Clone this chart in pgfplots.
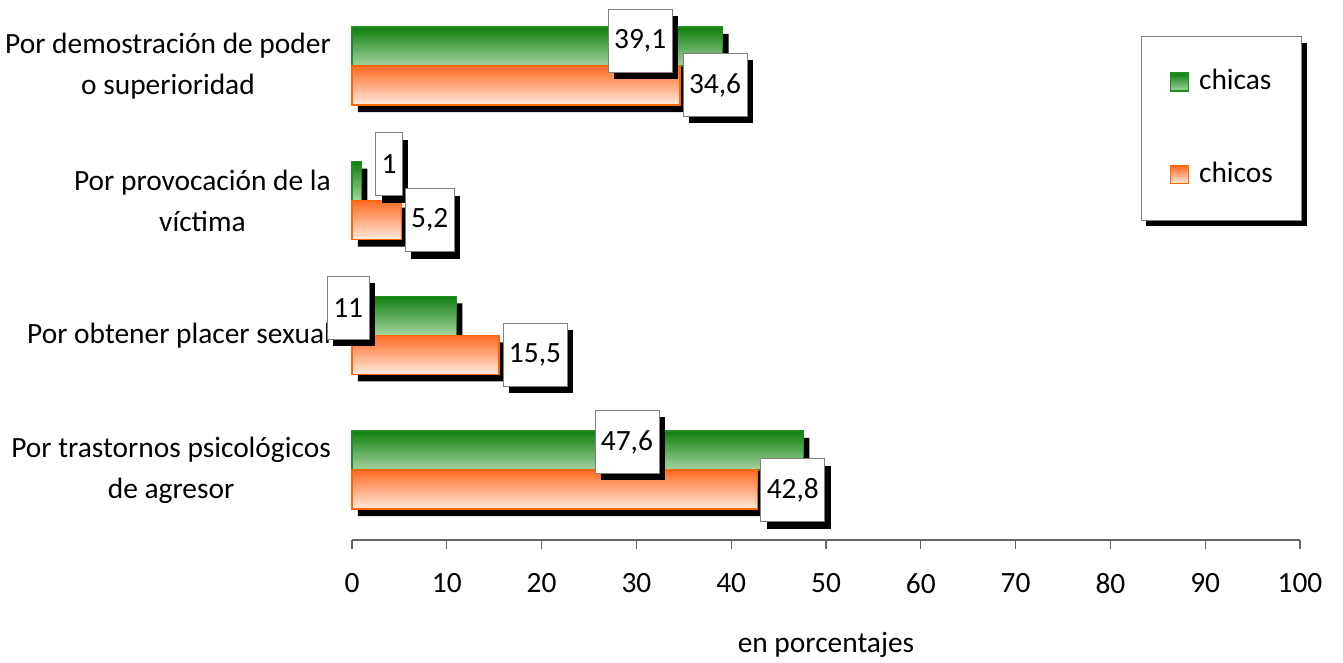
\documentclass[border=0pt]{standalone}
\usepackage{fontspec}
\setmainfont{Carlito}
\usepackage{pgfplots}
\usepackage{pgfplotstable}
\pgfplotsset{compat=1.18}
\usetikzlibrary{shadows}
\definecolor{gtop}{HTML}{0E7E0E}
\definecolor{gbot}{HTML}{A6D4A1}
\definecolor{gedge}{HTML}{1E8E1E}
\definecolor{otop}{HTML}{FF6A22}
\definecolor{obot}{HTML}{FFEBE0}
\definecolor{oedge}{HTML}{FF6600}
\definecolor{axgray}{HTML}{666666}
\makeatletter
\tikzset{nopre/.code={\let\tikz@preactions\pgfutil@empty}}
\makeatother

\pgfplotstableread{
y chicas chicos
3 39.1 34.6
2 1 5.2
1 11 15.5
0 47.6 42.8
}\data

\newcommand\fs{\fontsize{14.7}{20.5}\selectfont}
\begin{document}
\fs
\begin{tikzpicture}[
  lbl/.style={draw=gray, fill=white, inner xsep=3pt, inner ysep=0pt, minimum height=31.5pt,
    drop shadow={shadow xshift=3pt, shadow yshift=-3.5pt, fill=black, opacity=1}},
  gbar/.style={bar shift=0.145, draw=gedge, line width=0.6pt, top color=gtop, bottom color=gbot},
  obar/.style={bar shift=-0.145, draw=oedge, line width=0.6pt, top color=otop, bottom color=obot}]
\begin{axis}[
  scale only axis, width=474pt, height=270pt,
  xmin=0, xmax=100, ymin=-0.52, ymax=3.49,
  clip=false,
  xbar, bar width=0.29,
  axis x line*=bottom, axis y line*=left,
  y axis line style={draw=none},
  x axis line style={draw=axgray, line width=0.6pt},
  xtick={0,10,...,100},
  xtick style={draw=axgray, line width=0.6pt},
  ytick style={draw=none},
  tick align=outside,
  major tick length=4.5pt,
  ytick={0,1,2,3},
  yticklabels={{Por trastornos psicológicos\\de agresor},{Por obtener placer sexual},{Por provocación de la\\víctima},{Por demostración de poder\\o superioridad}},
  yticklabel style={align=center, xshift=-1pt},
  xticklabel style={yshift=-7pt},
  /pgf/number format/assume math mode=true,
  ticklabel style={font=\fs},
  xlabel={en porcentajes},
  xlabel style={at={(axis description cs:0.5,0)}, anchor=center, yshift=-52.5pt, font=\fs},
  legend image code/.code={\draw[#1, nopre] (0pt,-4.5pt) rectangle (9pt,4.5pt);},
  legend cell align=left,
  legend style={at={(1.002,0.933)}, anchor=north east, draw=gray, fill=white,
    inner xsep=14.3pt, inner ysep=16.5pt, row sep=34pt,
    nodes={inner sep=0pt},
    /tikz/every odd column/.append style={column sep=5pt},
    font=\fs,
    drop shadow={shadow xshift=2.5pt, shadow yshift=-3pt, fill=black, opacity=1}},
]
% shadows
\addplot[forget plot, fill=black, draw=none, bar shift=0.145, xshift=3pt, yshift=-3.5pt] table[x=chicas, y=y] {\data};
\addplot[forget plot, fill=black, draw=none, bar shift=-0.145, xshift=3pt, yshift=-3.5pt] table[x=chicos, y=y] {\data};
% bars (one plot per bar so each bar gets its own gradient)
\addplot[gbar, restrict y to domain=2.8:3.2] table[x=chicas, y=y] {\data};
\addlegendentry{chicas}
\addplot[gbar, forget plot, restrict y to domain=1.8:2.2] table[x=chicas, y=y] {\data};
\addplot[gbar, forget plot, restrict y to domain=0.8:1.2] table[x=chicas, y=y] {\data};
\addplot[gbar, forget plot, restrict y to domain=-0.2:0.2] table[x=chicas, y=y] {\data};
\addplot[obar, restrict y to domain=2.8:3.2] table[x=chicos, y=y] {\data};
\addlegendentry{chicos}
\addplot[obar, forget plot, restrict y to domain=1.8:2.2] table[x=chicos, y=y] {\data};
\addplot[obar, forget plot, restrict y to domain=0.8:1.2] table[x=chicos, y=y] {\data};
\addplot[obar, forget plot, restrict y to domain=-0.2:0.2] table[x=chicos, y=y] {\data};
% value labels
\node[lbl] at (axis cs:30.4,3.186) {39,1};
\node[lbl] at (axis cs:38.3,2.859) {34,6};
\node[lbl] at (axis cs:3.9,2.272) {1};
\node[lbl] at (axis cs:8.2,1.856) {5,2};
\node[lbl] at (axis cs:-0.4,1.203) {11};
\node[lbl] at (axis cs:19.3,0.854) {15,5};
\node[lbl] at (axis cs:29.0,0.208) {47,6};
\node[lbl] at (axis cs:46.5,-0.149) {42,8};
\end{axis}
\pgfresetboundingbox
\path (current axis.south west) ++(-176pt,-61.5pt) rectangle ++(671.5pt,331.5pt);
\end{tikzpicture}
\end{document}
